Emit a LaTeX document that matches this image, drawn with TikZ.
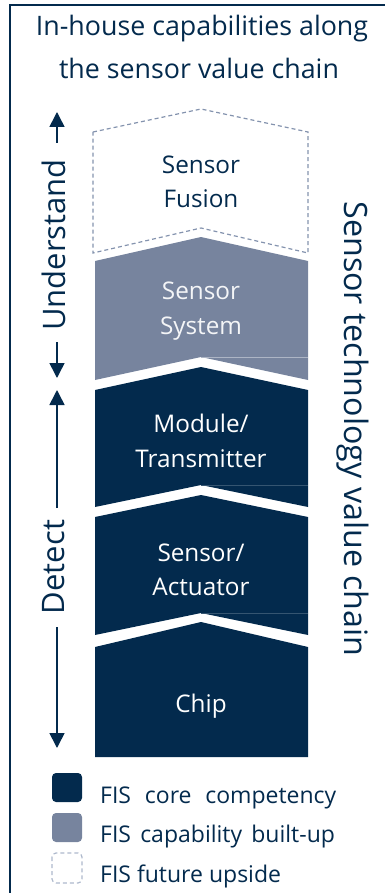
\documentclass[tikz,border=0pt]{standalone}
\usepackage{fontspec}
\setmainfont{Open Sans}
\usetikzlibrary{arrows.meta}
\definecolor{navy}{HTML}{032A4D}
\definecolor{steel}{HTML}{77849E}
\definecolor{dashc}{HTML}{8493AE}
\definecolor{legdash}{HTML}{AEB9CC}
\tikzset{
  frame/.style={draw=navy, line width=1.5pt},
  titletext/.style={text=navy, font=\fontsize{26.8}{30}\selectfont, inner sep=0pt},
  blocktext/.style={align=center, font=\fontsize{24.3}{34.5}\selectfont, inner sep=0pt},
  sidetext/.style={text=navy, inner sep=0pt},
  arr/.style={draw=navy, line width=1.6pt, -{Triangle[length=15pt,width=15pt]}},
  legtext/.style={text=navy, anchor=west, font=\fontsize{23}{26}\selectfont, inner sep=0pt},
  legbox/.style={rounded corners=4pt},
  seam/.style={line width=0.6pt}
}
\begin{document}
\begin{tikzpicture}[x=1pt,y=-1pt]
\useasboundingbox (0,0) rectangle (385,893);
% frame
\draw[frame] (10,893) -- (10,5) -- (385,5);
% title
\node[titletext] (t1) at (202,29) {In-house capabilities along};
\node[titletext] (t2) at (199,68) {the sensor value chain};
% blocks
\draw[dashc, dashed, line width=1.2pt, dash pattern=on 4pt off 3pt]
  (93,132) -- (201,109) -- (308,132) -- (308,253) -- (201,228) -- (93,253) -- cycle;
\fill[steel] (95,261) -- (201,237) -- (308,261) -- (308,380) -- (201,357) -- (95,380) -- cycle;
\draw[seam, white!40!steel] (201,357) -- (308,357);
\fill[navy] (95,390) -- (201,367) -- (308,390) -- (308,507) -- (201,485) -- (95,507) -- cycle;
\draw[seam, white!20!navy] (201,485) -- (308,485);
\fill[navy] (95,517) -- (201,495) -- (308,517) -- (308,635) -- (201,613) -- (95,635) -- cycle;
\draw[seam, white!20!navy] (201,613) -- (308,613);
\fill[navy] (95,647) -- (201,622) -- (308,647) -- (308,757) -- (95,757) -- cycle;
% block labels
\node[blocktext, text=navy] (fusion) at (201,182) {Sensor\\Fusion};
\node[blocktext, text=white!92!steel] (system) at (201,311) {Sensor\\System};
\node[blocktext, text=white] (module) at (201,441) {Module/\\Transmitter};
\node[blocktext, text=white] (actuator) at (201,570) {Sensor/\\Actuator};
\node[blocktext, text=white] (chip) at (201,706) {Chip};
% left axis
\node[sidetext, rotate=90, font=\fontsize{31}{34}\selectfont] (und) at (54,245) {Understand};
\node[sidetext, rotate=90, font=\fontsize{31}{34}\selectfont] (det) at (54,567) {Detect};
\coordinate (uTop) at (57,112);
\coordinate (uTopS) at (57,143);
\coordinate (uBotS) at (57,342);
\coordinate (uBot) at (57,378);
\coordinate (dTop) at (57,390);
\coordinate (dTopS) at (57,508);
\coordinate (dBotS) at (57,627);
\coordinate (dBot) at (57,748);
\draw[arr] (uTopS) -- (uTop);
\draw[arr] (uBotS) -- (uBot);
\draw[arr] (dTopS) -- (dTop);
\draw[arr] (dBotS) -- (dBot);
% right text
\node[sidetext, rotate=-90, font=\fontsize{32.2}{34}\selectfont] (chain) at (353,429) {Sensor technology value chain};
% legend
\fill[navy, legbox] (52,773) rectangle (82,802);
\fill[steel, legbox] (52,813) rectangle (82,842);
\draw[legdash, legbox, dashed, line width=1.2pt, dash pattern=on 4pt off 3pt] (52,853) rectangle (82,883);
\node[legtext] (l1) at (100,798) {FIS\hspace{0.6em}core\hspace{0.6em}competency};
\node[legtext] (l2) at (100,837) {FIS\hspace{0.4em}capability\hspace{0.4em}built-up};
\node[legtext] (l3) at (100,876) {FIS future upside};
\end{tikzpicture}
\end{document}
